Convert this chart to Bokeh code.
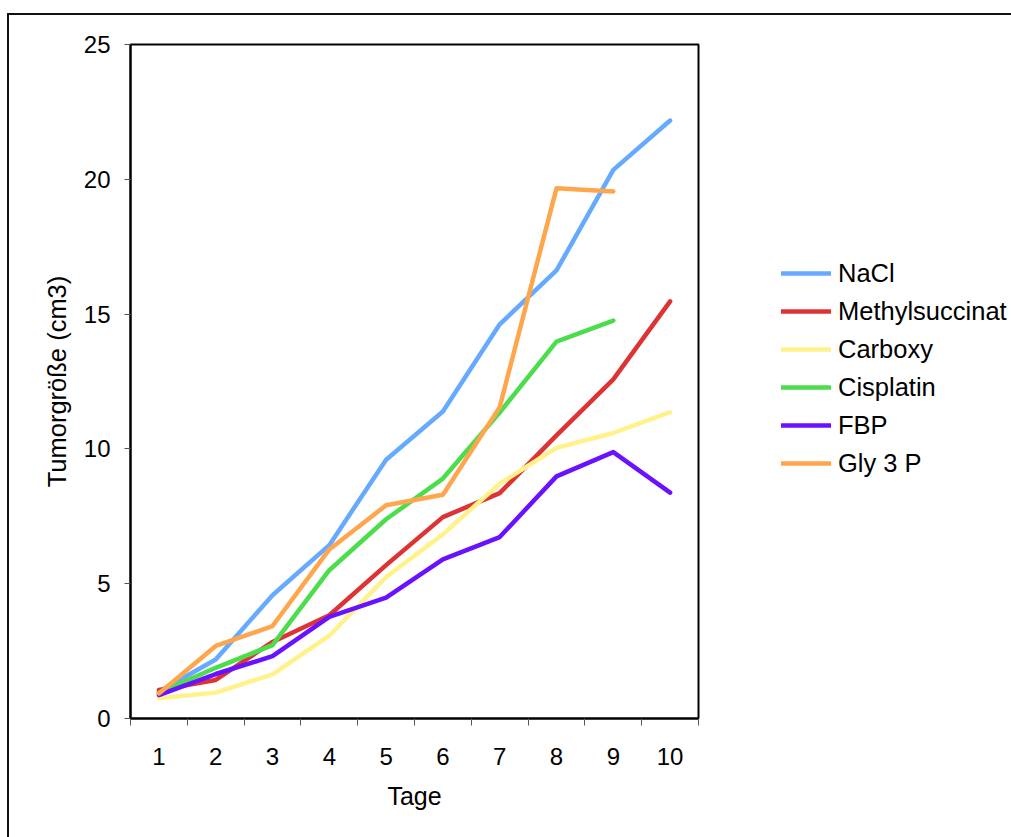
from bokeh.plotting import figure
from bokeh.models import Range1d, FixedTicker, Legend, LegendItem
from bokeh.embed import file_html
from bokeh.resources import INLINE

days = [1, 2, 3, 4, 5, 6, 7, 8, 9, 10]
nacl = [0.99, 2.19, 4.57, 6.43, 9.6, 11.39, 14.62, 16.62, 20.35, 22.18]
methylsuccinat = [1.06, 1.43, 2.84, 3.83, 5.69, 7.47, 8.36, 10.5, 12.58, 15.47]
carboxy = [0.75, 0.96, 1.64, 3.07, 5.25, 6.83, 8.71, 10.04, 10.59, 11.36]
cisplatin = [0.95, 1.88, 2.72, 5.5, 7.39, 8.9, 11.35, 13.98, 14.76]
fbp = [0.87, 1.65, 2.31, 3.77, 4.48, 5.9, 6.73, 8.98, 9.88, 8.38]
gly3p = [0.93, 2.69, 3.43, 6.27, 7.91, 8.3, 11.55, 19.67, 19.55]

series_names = ["NaCl", "Methylsuccinat", "Carboxy", "Cisplatin", "FBP", "Gly 3 P"]
series_values = [nacl, methylsuccinat, carboxy, cisplatin, fbp, gly3p]
series_colors = ["#66AAFF", "#DD3333", "#FFF28A", "#4CDD4C", "#6A12FF", "#FFA64D"]
y_ticks = [0, 5, 10, 15, 20, 25]

FONT = "Liberation Sans"

p = figure(frame_width=568, frame_height=674, output_backend="svg", toolbar_location=None,
           x_range=Range1d(0.5, 10.5), y_range=Range1d(0, 25),
           min_border_left=121, min_border_right=313, min_border_top=29, min_border_bottom=119)
p.styles = {"margin-left": "7px", "margin-top": "13px",
            "border-left": "2px solid #111", "border-top": "2px solid #111"}

p.xgrid.visible = False
p.ygrid.visible = False
p.outline_line_color = "black"
p.outline_line_width = 2

items = []
for name, vals, col in zip(series_names, series_values, series_colors):
    r = p.line(days[:len(vals)], vals, line_color=col, line_width=4.5,
               line_join="round", line_cap="round")
    items.append(LegendItem(label=name, renderers=[r]))

# x axis
xa = p.xaxis[0]
xa.ticker = FixedTicker(ticks=days, minor_ticks=[d - 0.5 for d in days] + [10.5])
xa.major_tick_line_color = None
xa.major_tick_out = 0
xa.major_tick_in = 0
xa.minor_tick_out = 7
xa.minor_tick_in = 0
xa.minor_tick_line_color = "#555555"
xa.axis_line_color = "black"
xa.axis_line_width = 2
xa.major_label_text_font = FONT
xa.major_label_text_font_size = "24px"
xa.major_label_text_color = "black"
xa.major_label_standoff = 22
xa.axis_label = "Tage"
xa.axis_label_text_font = FONT
xa.axis_label_text_font_size = "25px"
xa.axis_label_text_font_style = "normal"
xa.axis_label_text_color = "black"
xa.axis_label_standoff = 14

# y axis
ya = p.yaxis[0]
ya.ticker = FixedTicker(ticks=y_ticks)
ya.minor_tick_line_color = None
ya.major_tick_out = 6
ya.major_tick_in = 0
ya.major_tick_line_color = "#555555"
ya.axis_line_color = "black"
ya.axis_line_width = 2
ya.major_label_text_font = FONT
ya.major_label_text_font_size = "24px"
ya.major_label_text_color = "black"
ya.major_label_standoff = 14
ya.axis_label = "Tumorgröße (cm3)"
ya.axis_label_text_font = FONT
ya.axis_label_text_font_size = "25.5px"
ya.axis_label_text_font_style = "normal"
ya.axis_label_text_color = "black"
ya.axis_label_standoff = 10

legend = Legend(items=items, location=(83, 240), orientation="vertical",
                glyph_width=50, glyph_height=30, label_height=30, spacing=8,
                label_standoff=7, padding=0, margin=0,
                border_line_color=None, background_fill_alpha=0,
                label_text_font=FONT, label_text_font_size="25.5px",
                label_text_color="black")
p.add_layout(legend, "right")

open("out.html", "w").write(file_html(p, INLINE))
